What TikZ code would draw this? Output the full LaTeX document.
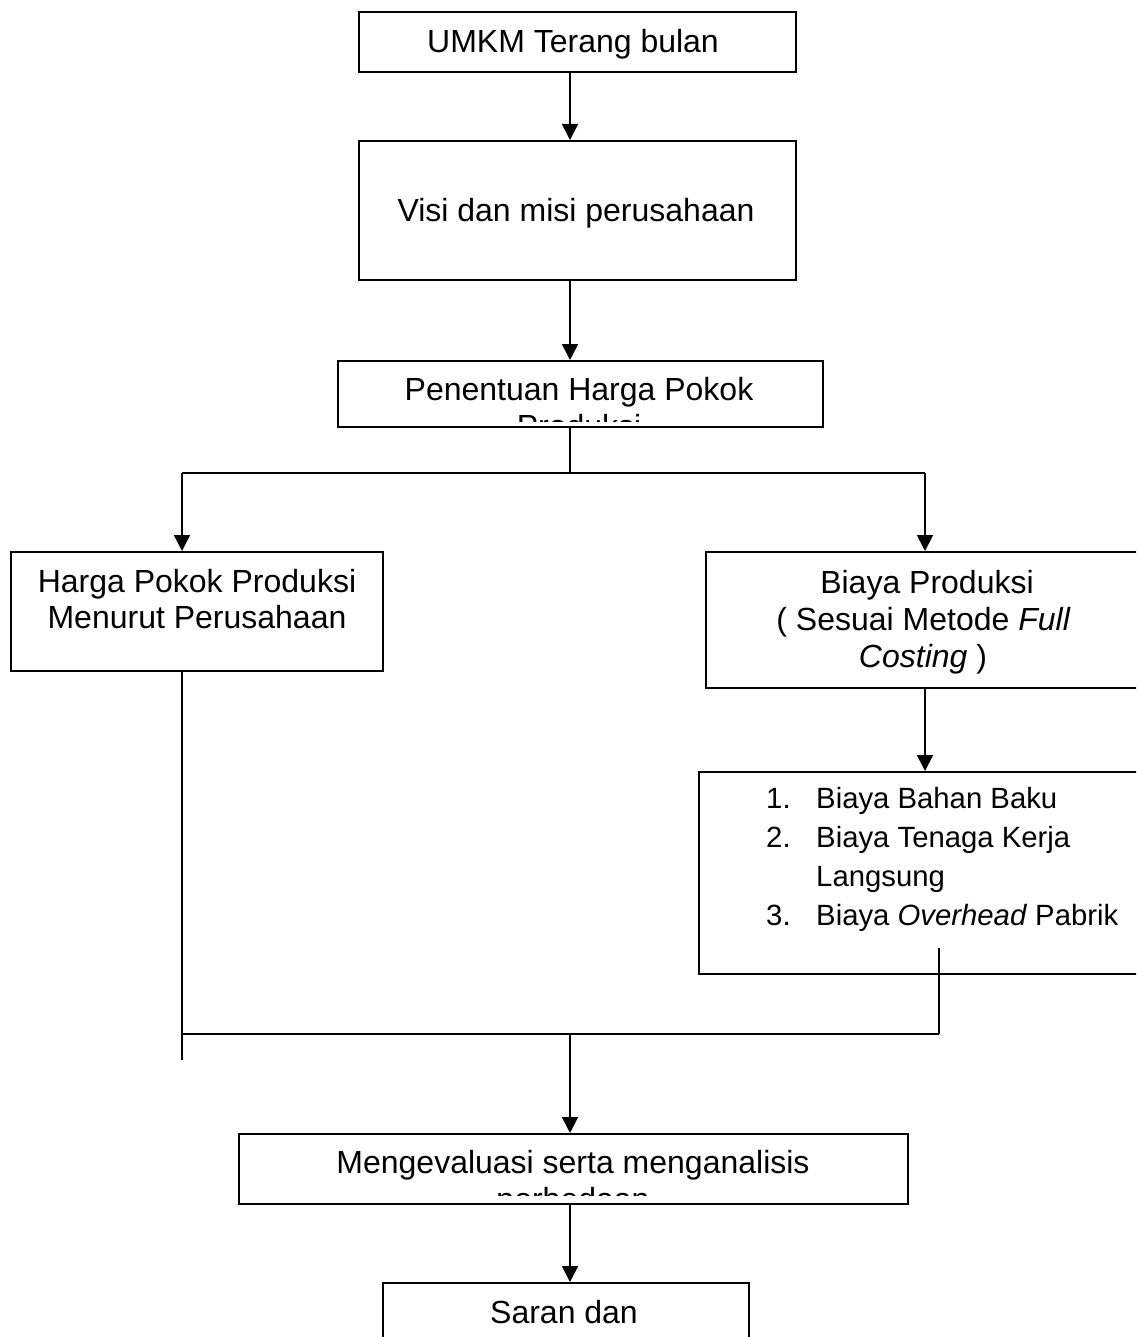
\documentclass[tikz,border=0pt]{standalone}
\usepackage{fontspec}
\setmainfont{Liberation Sans}
\usetikzlibrary{arrows.meta}
\tikzset{
  box/.style={draw=black, line width=2pt, rectangle, inner sep=0pt, anchor=north west},
  txt/.style={anchor=base, inner sep=0pt, font=\fontsize{32}{37}\selectfont},
  ltxt/.style={anchor=base west, inner sep=0pt, font=\fontsize{29.3}{37}\selectfont},
  conn/.style={draw=black, line width=1.8pt},
  arr/.style={conn, -{Triangle[width=16pt,length=16pt]}}
}
\begin{document}
\begin{tikzpicture}[x=1pt,y=-1pt]
\useasboundingbox (0,0) rectangle (1136,1337);
\clip (0,0) rectangle (1136,1337);
\fill[white] (0,0) rectangle (1136,1337);
\coordinate (cx) at (570,0);
\coordinate (lx) at (182,0);
\coordinate (rx) at (925,0);
\coordinate (rx2) at (939,0);
% boxes
\node[box, minimum width=437pt, minimum height=60pt] (b1) at (358,11) {};
\node[box, minimum width=437pt, minimum height=139pt] (b2) at (358,140) {};
\node[box, minimum width=485pt, minimum height=66pt] (b3) at (337,360) {};
\node[box, minimum width=372pt, minimum height=119pt] (b4) at (10,551) {};
\node[box, minimum width=460pt, minimum height=136pt] (b5) at (705,551) {};
\node[box, minimum width=470pt, minimum height=202pt] (b6) at (698,771) {};
\node[box, minimum width=669pt, minimum height=70pt] (b7) at (238,1133) {};
\node[box, minimum width=366pt, minimum height=120pt] (b8) at (382,1282) {};
% texts
\node[txt] (t1) at (573,53) {UMKM Terang bulan};
\node[txt] (t2) at (576,222) {Visi dan misi perusahaan};
\begin{scope}
\clip (337,360) rectangle (822,421);
\node[txt] (t3a) at (579,400) {Penentuan Harga Pokok};
\node[txt] (t3b) at (579,437) {Produksi};
\end{scope}
\node[txt] (t4a) at (197,592) {Harga Pokok Produksi};
\node[txt] (t4b) at (197,628) {Menurut Perusahaan};
\node[txt] (t5a) at (927,593) {Biaya Produksi};
\node[txt] (t5b) at (923.5,630) {( Sesuai Metode \textit{Full}};
\node[txt] (t5c) at (923,667) {\textit{Costing} )};
\node[ltxt] (n1) at (766,808) {1.};
\node[ltxt] (l1) at (816,808) {Biaya Bahan Baku};
\node[ltxt] (n2) at (766,847) {2.};
\node[ltxt] (l2) at (816,847) {Biaya Tenaga Kerja};
\node[ltxt] (l2b) at (816,886) {Langsung};
\node[ltxt] (n3) at (766,925) {3.};
\node[ltxt] (l3) at (816,925) {Biaya \textit{Overhead} Pabrik};
\begin{scope}
\clip (238,1133) rectangle (907,1195);
\node[txt] (t7a) at (573,1173) {Mengevaluasi serta menganalisis};
\node[txt] (t7b) at (573,1210) {perbedaan};
\end{scope}
\node[txt] (t8) at (564,1323) {Saran dan};
% connectors
\coordinate (split) at (570,473);
\coordinate (join) at (570,1034);
\coordinate (lend) at (182,1060);
\coordinate (rstart) at (939,948);
\draw[arr] (b1.south -| cx) -- (b2.north -| cx);
\draw[arr] (b2.south -| cx) -- (b3.north -| cx);
\draw[conn] (b3.south -| cx) -- (split);
\draw[conn] (split -| lx) -- (split -| rx);
\draw[arr] (split -| lx) -- (b4.north -| lx);
\draw[arr] (split -| rx) -- (b5.north -| rx);
\draw[arr] (b5.south -| rx) -- (b6.north -| rx);
\draw[conn] (b4.south -| lx) -- (lend);
\draw[conn] (rstart) -- (join -| rx2);
\draw[conn] (join -| lx) -- (join -| rx2);
\draw[arr] (join) -- (b7.north -| cx);
\draw[arr] (b7.south -| cx) -- (b8.north -| cx);
\end{tikzpicture}
\end{document}
